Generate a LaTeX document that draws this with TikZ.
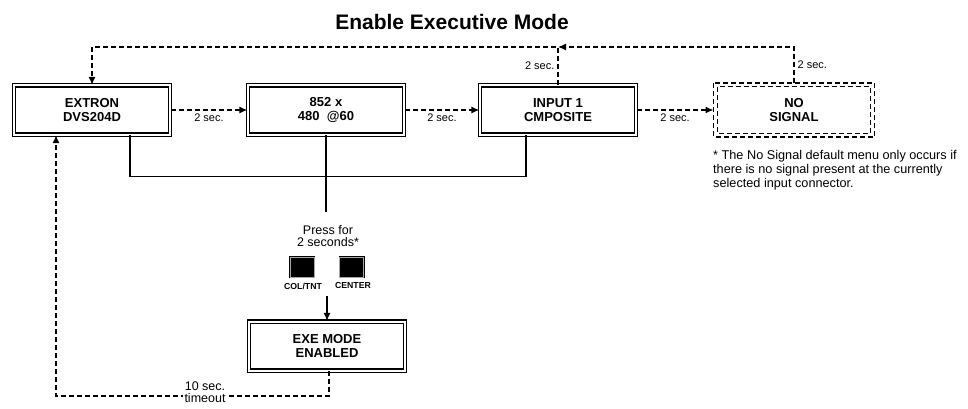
\documentclass[tikz,border=0pt]{standalone}
\usepackage{fontspec}
\setmainfont{Liberation Sans}
\usetikzlibrary{arrows.meta,calc}

\begin{document}
\begin{tikzpicture}[x=1pt,y=-1pt,
  menu/.style={draw, double, double distance=2pt, line width=1.3pt, minimum width=156pt, minimum height=49pt, align=center, inner sep=0pt, font=\fontsize{13}{14.5}\bfseries\selectfont},
  nomenu/.style={minimum width=161pt, minimum height=54pt, outer sep=0pt, align=center, inner sep=0pt, font=\fontsize{13}{14.5}\bfseries\selectfont},
  flow/.style={dashed, dash pattern=on 5pt off 3pt, line width=1.2pt},
  tip/.style={-{Latex[length=8pt,width=7pt]}},
  wire/.style={line width=1.2pt},
  secs/.style={font=\fontsize{11}{12}\selectfont, inner sep=3pt},
  keybtn/.style={draw=black, fill=black, double=gray!70, double distance=0.4pt, line width=0.8pt, minimum width=24pt, minimum height=20pt, inner sep=0pt},
  keylabel/.style={font=\fontsize{8.7}{9}\bfseries\selectfont, inner sep=0pt}]
\useasboundingbox (0,0) rectangle (968,409);

\node[font=\fontsize{21}{22}\bfseries\selectfont] (title) at (452,22) {Enable Executive Mode};

\node[menu] (extron) at (92,110) {EXTRON\\DVS204D};
\node[menu] (res) at (326,110) {852 x\\480 \ @60};
\node[menu] (input) at (558,110) {INPUT 1\\CMPOSITE};
\node[nomenu] (nosig) at (794,110) {NO\\SIGNAL};
\draw[flow, line width=1.3pt] (nosig.north west) rectangle (nosig.south east);
\draw[flow, line width=1.1pt] ($(nosig.north west)+(3.8,3.8)$) rectangle ($(nosig.south east)+(-3.8,-3.8)$);
\node[menu] (exe) at (327,346) {EXE MODE\\ENABLED};

\draw[flow,tip] (extron.east) -- node[secs,below] {2 sec.} (res.west);
\draw[flow,tip] (res.east) -- node[secs,below] {2 sec.} (input.west);
\draw[flow,tip] (input.east) -- node[secs,below] {2 sec.} (nosig.west);

\coordinate (topin) at (558,47);
\coordinate (topex) at (92,47);
\coordinate (topno) at (794,47);
\draw[flow,tip] (input.north) -- node[secs,left] {2 sec.} (topin) -- (topex) -- (extron.north);
\draw[flow,tip] (nosig.north) -- node[secs,right] {2 sec.} (topno) -- (topin);

\coordinate (busL) at ($(extron.south)+(38,41)$);
\coordinate (busR) at ($(input.south)+(-32,41)$);
\coordinate (busM) at (326,212);
\draw[wire] ($(extron.south)+(38,0)$) -- (busL) -- (busR) -- ($(input.south)+(-32,0)$);
\draw[wire] (res.south) -- (busM);

\node[font=\fontsize{12.5}{11.5}\selectfont, align=center] (press) at (328,236) {Press for\\2 seconds*};
\node[keybtn] (coltnt) at (302,267) {};
\node[keybtn] (center) at (351.5,267) {};
\node[keylabel] (coltntlbl) at (303,286) {COL/TNT};
\node[keylabel] (centerlbl) at (353,286) {CENTER};
\coordinate (down) at (327,296);
\draw[wire,tip] (down) -- (exe.north);

\coordinate (botex) at (329,396);
\coordinate (botleft) at (56,396);
\draw[flow,tip] (exe.south -| botex) -- (botex) -- (botleft) -- (botleft |- extron.south);
\node[fill=white, align=center, inner sep=2pt, font=\fontsize{12.5}{12}\selectfont] (timeout) at (205,392) {10 sec.\\timeout};

\node[anchor=north west, align=left, inner sep=0pt, font=\fontsize{12.7}{14}\selectfont] (note) at (713,150) {* The No Signal default menu only occurs if\\there is no signal present at the currently\\selected input connector.};
\end{tikzpicture}
\end{document}
